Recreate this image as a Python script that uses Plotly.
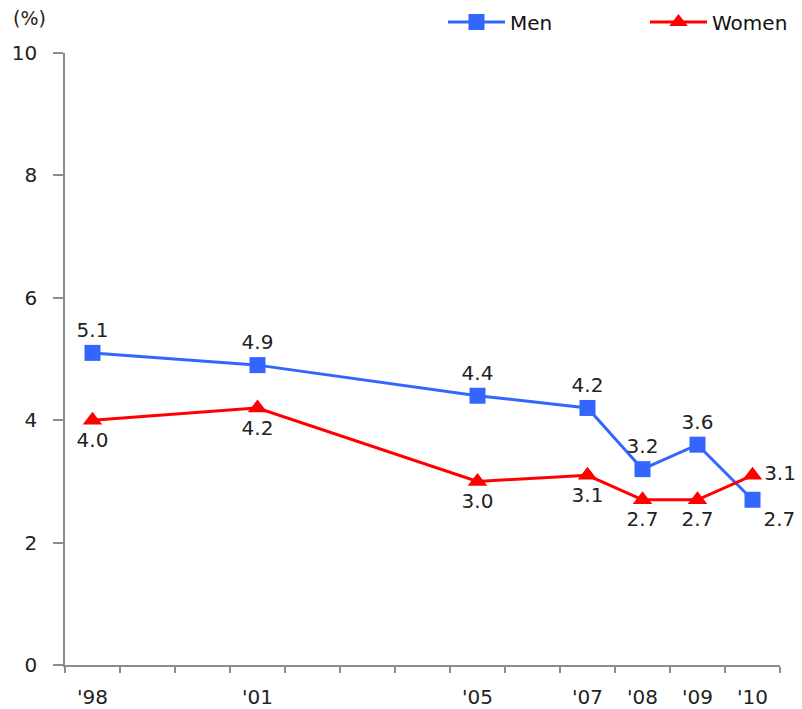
import plotly.graph_objects as go

# Survey years and rates (%)
years = [1998, 2001, 2005, 2007, 2008, 2009, 2010]
year_labels = ["'98", "'01", "'05", "'07", "'08", "'09", "'10"]
men = [5.1, 4.9, 4.4, 4.2, 3.2, 3.6, 2.7]
women = [4.0, 4.2, 3.0, 3.1, 2.7, 2.7, 3.1]

men_text_pos = ["top center"] * 6 + ["bottom right"]
women_text_pos = ["bottom center"] * 6 + ["middle right"]

BLUE = "#3366FF"
RED = "#FF0000"
AXIS = "#8c8c8c"
TEXT = "#222222"
FONT = "DejaVu Sans"
SIZE = 20

fig = go.Figure()

fig.add_trace(go.Scatter(
    x=years, y=men, name="Men", legend="legend",
    mode="lines+markers+text",
    line=dict(color=BLUE, width=3),
    marker=dict(symbol="square", size=16, color=BLUE),
    text=[f"{v:.1f}" for v in men],
    textposition=men_text_pos,
    textfont=dict(family=FONT, size=SIZE, color=TEXT),
    cliponaxis=False,
))

fig.add_trace(go.Scatter(
    x=years, y=women, name="Women", legend="legend2",
    mode="lines+markers+text",
    line=dict(color=RED, width=3),
    marker=dict(symbol="triangle-up", size=17, color=RED),
    text=[f"{v:.1f}" for v in women],
    textposition=women_text_pos,
    textfont=dict(family=FONT, size=SIZE, color=TEXT),
    cliponaxis=False,
))

legend_style = dict(
    orientation="h", yanchor="middle", xanchor="left",
    xref="container", yref="container", itemwidth=57,
    font=dict(family=FONT, size=SIZE, color="#111111"),
    bgcolor="rgba(0,0,0,0)", borderwidth=0,
)

fig.update_layout(
    width=802, height=709,
    margin=dict(l=65, r=22, t=53, b=44, autoexpand=False),
    paper_bgcolor="white", plot_bgcolor="white",
    font=dict(family=FONT, size=SIZE, color=TEXT),
    showlegend=True,
    legend=dict(legend_style, x=443 / 802, y=1 - 22 / 709),
    legend2=dict(legend_style, x=645 / 802, y=1 - 22 / 709),
    xaxis=dict(
        range=[1997.5, 2010.5],
        tickvals=years, ticktext=year_labels,
        ticks="", ticklabelstandoff=13,
        showline=True, linecolor=AXIS, linewidth=1.5,
        showgrid=False, zeroline=False,
        tickfont=dict(family=FONT, size=SIZE, color=TEXT),
        minor=dict(tick0=1997.5, dtick=1, ticks="outside", ticklen=6,
                   tickcolor=AXIS, tickwidth=1.5, showgrid=False),
    ),
    yaxis=dict(
        range=[0, 10], tickvals=[0, 2, 4, 6, 8, 10],
        ticks="outside", ticklen=10, tickcolor=AXIS, tickwidth=1.5,
        ticklabelstandoff=12,
        showline=True, linecolor=AXIS, linewidth=1.5,
        showgrid=False, zeroline=False,
        tickfont=dict(family=FONT, size=SIZE, color=TEXT),
    ),
    annotations=[dict(
        text="(%)", xref="paper", yref="paper", x=-0.049, y=1.057,
        xanchor="center", yanchor="middle", showarrow=False,
        font=dict(family=FONT, size=19, color=TEXT),
    )],
)

fig.write_html("out.html")
